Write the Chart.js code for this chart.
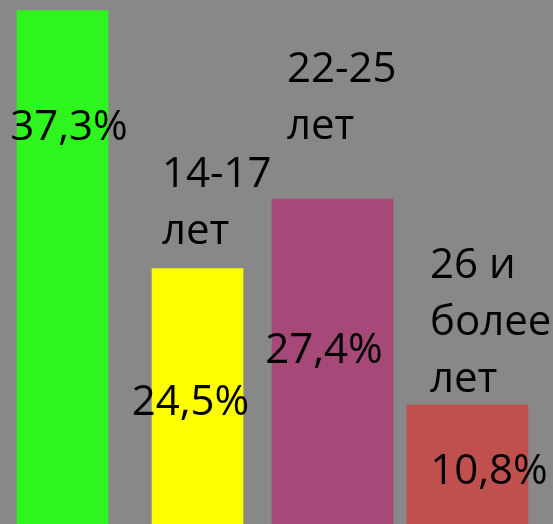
<!DOCTYPE html>
<html><head><meta charset="utf-8">
<script src="https://cdn.jsdelivr.net/npm/chart.js@4/dist/chart.umd.min.js"></script>
<style>
html,body{margin:0;padding:0;background:#888888;overflow:hidden}
#wrap{width:558px;height:524px;position:absolute;left:-5px;top:0}
</style>
</head><body>
<div id="wrap"><canvas id="c"></canvas></div>
<script>
// Category labels (multi-line), as shown above the bars
const categories = [[""], ["14-17", "лет"], ["22-25", "лет"], ["26 и", "более", "лет"]];
// Percentages written on the bars
const values = [37.3, 24.5, 27.4, 10.8];
// Bar heights as drawn in the picture (same % units on the value axis)
const barHeights = [39.2, 19.5, 24.8, 9.1];
const colors = ["#2EF51E", "#FFFF00", "#A64878", "#C0504D"];

// styling / label placement (pixels)
const barWidths = [91, 91, 121, 121];
const valueDx = [6.5, -7, -8.5, 21.5];
const valueDy = [130, 146, 164, 79];
const catDx = [0, 10, 15, 23];
const catDy = [0, -82, -117, -127];
const lineH = 57;
const FONT = '42px "Open Sans", "Noto Sans", sans-serif';

function fmt(v) { return v.toFixed(1).replace('.', ',') + '%'; }

const labelPlugin = {
  id: 'labels',
  afterDatasetsDraw(chart) {
    const ctx = chart.ctx;
    ctx.save();
    ctx.font = FONT;
    ctx.fillStyle = '#000';
    ctx.textBaseline = 'alphabetic';
    chart.data.datasets.forEach((ds, i) => {
      const bar = chart.getDatasetMeta(i).data[i];
      if (!bar) return;
      const top = bar.y;
      ctx.textAlign = 'center';
      ctx.fillText(fmt(values[i]), bar.x + valueDx[i], top + valueDy[i]);
      ctx.textAlign = 'left';
      const left = bar.x - bar.width / 2 + catDx[i];
      categories[i].forEach((line, j) => {
        if (line) ctx.fillText(line, left, top + catDy[i] + j * lineH);
      });
    });
    ctx.restore();
  }
};

const datasets = barHeights.map((h, i) => ({
  data: barHeights.map((v, j) => (j === i ? v : null)),
  backgroundColor: colors[i],
  borderWidth: 0,
  barThickness: barWidths[i],
  grouped: false,
  skipNull: true
}));

new Chart(document.getElementById('c'), {
  type: 'bar',
  data: { labels: categories.map(c => c.join(' ')), datasets },
  options: {
    responsive: true,
    maintainAspectRatio: false,
    animation: false,
    layout: { padding: { left: 0, right: 18, top: 0, bottom: 0 } },
    plugins: { legend: { display: false }, tooltip: { enabled: false } },
    scales: {
      x: { display: false, offset: true },
      y: { display: false, min: 0, max: 40 }
    }
  },
  plugins: [labelPlugin]
});
</script>
</body></html>
